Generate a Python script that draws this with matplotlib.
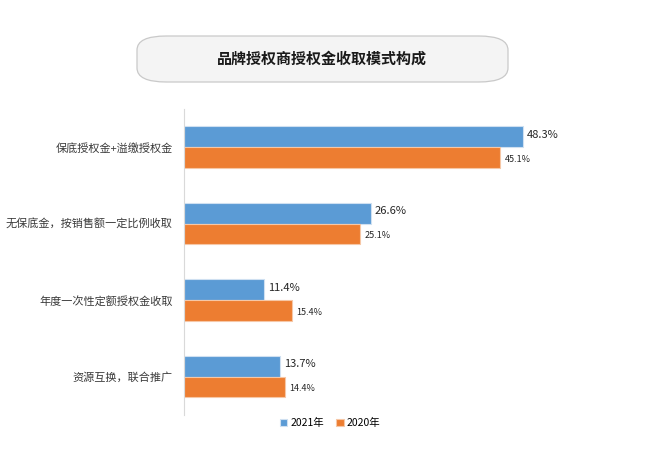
import matplotlib.pyplot as plt
from matplotlib.patches import FancyBboxPatch
import numpy as np

plt.rcParams['font.family'] = ['Noto Sans CJK SC', 'DejaVu Sans']

categories = ['保底授权金+溢缴授权金', '无保底金，按销售额一定比例收取',
              '年度一次性定额授权金收取', '资源互换，联合推广']
v2021 = [48.3, 26.6, 11.4, 13.7]
v2020 = [45.1, 25.1, 15.4, 14.4]
title = '品牌授权商授权金收取模式构成'

blue = '#5B9BD5'
orange = '#ED7D31'

fig = plt.figure(figsize=(6.5, 4.5), dpi=100)
ax = fig.add_axes([0.283, 0.078, 0.655, 0.68])

y = np.arange(len(categories))
h = 0.27
ax.barh(y - h / 2, v2021, height=h, color=blue, edgecolor='#cfe0f1', linewidth=0.8, label='2021年')
ax.barh(y + h / 2, v2020, height=h, color=orange, edgecolor='#f6c7a6', linewidth=0.8, label='2020年')

for i in range(len(categories)):
    ax.text(v2021[i] + 0.6, y[i] - h / 2 - 0.03, f'{v2021[i]}%', va='center', ha='left',
            fontsize=8, color='#262626')
    ax.text(v2020[i] + 0.6, y[i] + h / 2 + 0.02, f'{v2020[i]}%', va='center', ha='left',
            fontsize=6.5, color='#262626')

ax.set_xlim(0, 60.7)
ax.set_ylim(len(categories) - 0.5, -0.5)
ax.set_yticks(y)
ax.set_yticklabels(categories, fontsize=8, color='#3a3a3a')
ax.tick_params(axis='y', length=0, pad=8)
ax.set_xticks([])
for s in ['top', 'right', 'bottom']:
    ax.spines[s].set_visible(False)
ax.spines['left'].set_color('#d9d9d9')
ax.spines['left'].set_linewidth(0.8)

# 标题框
box = FancyBboxPatch((137 / 650, 1 - 82 / 450), 371 / 650, 46 / 450,
                     boxstyle='round,pad=0,rounding_size=0.045',
                     transform=fig.transFigure, facecolor='#f4f4f4',
                     edgecolor='#c9c9c9', linewidth=0.9, mutation_aspect=450 / 650)
fig.patches.append(box)
fig.text(322 / 650, 1 - 59 / 450, title, ha='center', va='center',
         fontsize=10.8, fontweight='bold', color='#1a1a1a')

fig.legend(loc='center', bbox_to_anchor=(330 / 650, 1 - 423 / 450), ncol=2,
           frameon=False, fontsize=7.5, handlelength=0.7, handleheight=0.7,
           handletextpad=0.3, columnspacing=1.2)

fig.savefig('out.png', dpi=100, facecolor='white')
